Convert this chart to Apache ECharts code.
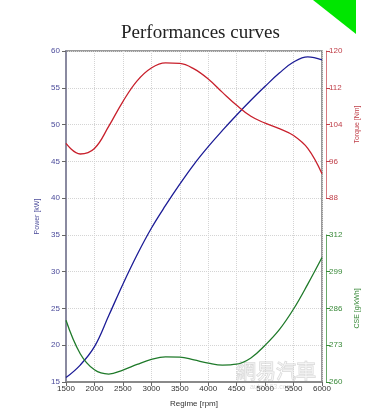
<!DOCTYPE html>
<html><head><meta charset="utf-8">
<script src="https://cdn.jsdelivr.net/npm/echarts@6/dist/echarts.min.js"></script>
<style>html,body{margin:0;padding:0;background:#fff}#c{width:377px;height:419px}</style>
</head><body><div id="c"></div>
<script>
var rpm = [1500,1750,2000,2250,2500,2750,3000,3250,3500,3750,4000,4250,4500,4750,5000,5250,5500,5750,6000];
var power = [15.6,17.3,19.8,24.0,28.3,32.3,35.9,39.0,41.9,44.6,47.0,49.2,51.3,53.3,55.2,57.0,58.5,59.2,58.8];
var torque = [99.9,97.6,98.8,103.6,109.0,113.5,116.3,117.4,117.3,116.1,113.9,111.0,108.2,105.8,104.3,103.1,101.6,98.8,93.3];
var cse = [281.8,270.0,264.3,262.8,264.2,266.2,268.0,268.9,268.8,267.8,266.7,266.0,266.3,268.5,273.0,278.5,285.8,294.6,304.0];
var titleText = 'Performances curves';
var xName = 'Regime [rpm]', powerName = 'Power [kW]', torqueName = 'Torque [Nm]', cseName = 'CSE [g/kWh]';

function pairs(ys){ return rpm.map(function(x,i){ return [x, ys[i]]; }); }

var L = 66, R = 55, T = 51, H = 331, step = H/9;
var chart = echarts.init(document.getElementById('c'), null, {renderer:'canvas'});
var lbl = {fontFamily:'Liberation Sans', fontSize:8, formatter:function(v){ return String(v); }};
var xBase = {type:'value', min:1500, max:6000, interval:500};
chart.setOption({
  animation:false,
  title:{text:titleText, left:116, top:19, textStyle:{fontFamily:'Liberation Serif', fontSize:19, fontWeight:'normal', color:'#222'}},
  grid:[
    {left:L, right:R, top:T, height:H, show:true, borderColor:'#7a7a7a', borderWidth:1.5, backgroundColor:'transparent'},
    {left:L, right:R, top:T, height:step*4},
    {left:L, right:R, top:T+step*5, height:step*4}
  ],
  xAxis:[
    Object.assign({gridIndex:0, name:xName, nameLocation:'middle', nameGap:18,
      nameTextStyle:{fontFamily:'Liberation Sans', fontSize:8, color:'#333'},
      axisLine:{lineStyle:{color:'#8a8a8a', width:2}},
      axisTick:{show:true, length:4, lineStyle:{color:'#666'}},
      axisLabel:Object.assign({color:'#333', margin:3}, lbl),
      splitLine:{show:true, lineStyle:{color:'#d4d4d4', type:'dotted'}}}, xBase),
    Object.assign({gridIndex:1, show:false, splitLine:{show:false}}, xBase),
    Object.assign({gridIndex:2, show:false, splitLine:{show:false}}, xBase)
  ],
  yAxis:[
    {gridIndex:0, type:'value', min:15, max:60, interval:5, position:'left', name:powerName, nameLocation:'middle', nameGap:22,
      nameTextStyle:{fontFamily:'Liberation Sans', fontSize:7, color:'#4b4b9a'},
      axisLine:{show:true, lineStyle:{color:'#8a8aa0', width:2}},
      axisTick:{show:true, length:4, lineStyle:{color:'#666'}},
      axisLabel:Object.assign({color:'#4b4b9a', margin:6}, lbl),
      splitLine:{show:true, lineStyle:{color:'#d4d4d4', type:'dotted'}}},
    {gridIndex:1, type:'value', min:88, max:120, interval:8, position:'right', offset:4, name:torqueName, nameLocation:'middle', nameGap:25,
      nameRotate:90,
      nameTextStyle:{fontFamily:'Liberation Sans', fontSize:7, color:'#c0404a'},
      axisLine:{show:true, lineStyle:{color:'#d77a80', width:1}},
      axisTick:{show:true, length:4, lineStyle:{color:'#c0404a'}},
      axisLabel:Object.assign({color:'#c0404a', margin:3}, lbl),
      splitLine:{show:false}},
    {gridIndex:2, type:'value', min:260, max:312, interval:13, position:'right', offset:4, name:cseName, nameLocation:'middle', nameGap:25,
      nameRotate:90,
      nameTextStyle:{fontFamily:'Liberation Sans', fontSize:7, color:'#3a8a3a'},
      axisLine:{show:true, lineStyle:{color:'#6aa86a', width:1}},
      axisTick:{show:true, length:4, lineStyle:{color:'#3a8a3a'}},
      axisLabel:Object.assign({color:'#3a8a3a', margin:3}, lbl),
      splitLine:{show:false}}
  ],
  series:[
    {type:'line', xAxisIndex:0, yAxisIndex:0, data:pairs(power), smooth:0.4, showSymbol:false, lineStyle:{color:'#1c1c96', width:1.3}},
    {type:'line', xAxisIndex:1, yAxisIndex:1, data:pairs(torque), smooth:0.4, showSymbol:false, lineStyle:{color:'#c8202c', width:1.3}},
    {type:'line', xAxisIndex:2, yAxisIndex:2, data:pairs(cse), smooth:0.4, showSymbol:false, lineStyle:{color:'#1f7a2a', width:1.3}}
  ],
  graphic:[
    {type:'polygon', shape:{points:[[313,0],[356,0],[356,34]]}, style:{fill:'#00e600'}, silent:true},
    {type:'text', x:236, y:361, style:{text:'網易汽車', fontFamily:'Noto Sans CJK TC', fontSize:20, fill:'rgba(255,255,255,0.5)', stroke:'rgba(170,170,170,0.5)', lineWidth:1}, silent:true},
    {type:'text', x:250, y:384, style:{text:'auto.163.com', fontFamily:'Liberation Sans', fontSize:7, fill:'rgba(160,160,160,0.4)'}, silent:true}
  ]
});
</script></body></html>
